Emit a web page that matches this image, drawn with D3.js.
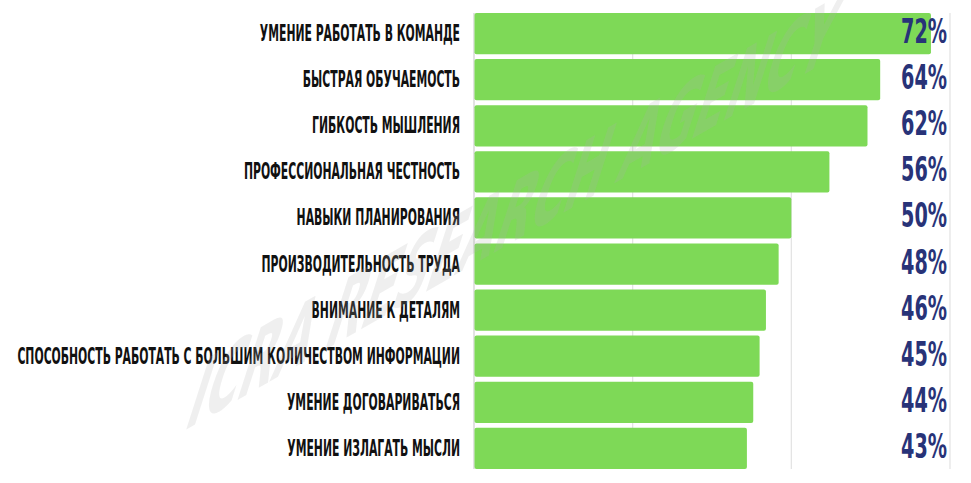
<!DOCTYPE html>
<html>
<head>
<meta charset="utf-8">
<script src="https://cdn.jsdelivr.net/npm/d3@7/dist/d3.min.js"></script>
<style>
  html, body { margin: 0; padding: 0; background: #ffffff; }
  svg { display: block; }
</style>
</head>
<body>
<svg id="chart" width="971" height="483"></svg>
<script>
const categories = [
  "УМЕНИЕ РАБОТАТЬ В КОМАНДЕ",
  "БЫСТРАЯ ОБУЧАЕМОСТЬ",
  "ГИБКОСТЬ МЫШЛЕНИЯ",
  "ПРОФЕССИОНАЛЬНАЯ ЧЕСТНОСТЬ",
  "НАВЫКИ ПЛАНИРОВАНИЯ",
  "ПРОИЗВОДИТЕЛЬНОСТЬ ТРУДА",
  "ВНИМАНИЕ К ДЕТАЛЯМ",
  "СПОСОБНОСТЬ РАБОТАТЬ С БОЛЬШИМ КОЛИЧЕСТВОМ ИНФОРМАЦИИ",
  "УМЕНИЕ ДОГОВАРИВАТЬСЯ",
  "УМЕНИЕ ИЗЛАГАТЬ МЫСЛИ"
];
const values = [72, 64, 62, 56, 50, 48, 46, 45, 44, 43];
const gridTicks = [0, 25, 50, 75];
const watermarkText = "ICRA RESEARCH AGENCY";

const svg = d3.select("#chart");
const condensed = "'Liberation Sans Narrow', 'DejaVu Sans Condensed', 'Arial Narrow', sans-serif";

const x = d3.scaleLinear().domain([0, 75]).range([474, 950]);
const y = d3.scaleBand().domain(categories).range([10.6, 471.4])
  .paddingInner(0.104).paddingOuter(0.052);

const plotTop = y(categories[0]);
const plotBottom = y(categories[categories.length - 1]) + y.bandwidth();

// gridlines
svg.append("g").selectAll("line").data(gridTicks).join("line")
  .attr("x1", d => x(d)).attr("x2", d => x(d))
  .attr("y1", plotTop).attr("y2", plotBottom)
  .attr("stroke", d => d === 0 ? "#cfcfcf" : "#e2e2e2")
  .attr("stroke-width", 1.2);

// bars
svg.append("g").selectAll("rect").data(values).join("rect")
  .attr("x", x(0) + 0.5)
  .attr("y", (d, i) => y(categories[i]))
  .attr("width", d => x(d) - x(0) - 0.5)
  .attr("height", y.bandwidth())
  .attr("rx", 2).attr("ry", 2)
  .attr("fill", "#7ed957");

// category labels
const labelG = svg.append("g");
const labels = labelG.selectAll("text").data(categories).join("text")
  .text(d => d)
  .attr("text-anchor", "end")
  .attr("font-family", condensed)
  .attr("font-weight", "bold")
  .attr("font-size", 22.5)
  .attr("fill", "#111111");
let maxW = 0;
labels.each(function () { maxW = Math.max(maxW, this.getComputedTextLength()); });
const sxLab = 443 / maxW;
labels.attr("transform", d => `translate(460,${y(d) + y.bandwidth() / 2 + 7.5}) scale(${sxLab},1)`);

// value labels
const valG = svg.append("g");
const vals = valG.selectAll("text").data(values).join("text")
  .text(d => d + "%")
  .attr("text-anchor", "end")
  .attr("font-family", condensed)
  .attr("font-weight", "bold")
  .attr("font-size", 33)
  .attr("fill", "#283378");
let vW = 0;
vals.each(function () { vW = Math.max(vW, this.getComputedTextLength()); });
const sxVal = 46 / vW;
vals.attr("transform", (d, i) => `translate(947,${y(categories[i]) + y.bandwidth() / 2 + 9.5}) scale(${sxVal},1)`);

// watermark (skewed, translucent)
svg.append("text")
  .text(watermarkText)
  .attr("font-family", condensed)
  .attr("font-weight", "bold")
  .attr("font-size", 100)
  .attr("fill", "#b0b0b0")
  .attr("fill-opacity", 0.2)
  .attr("textLength", 740)
  .attr("lengthAdjust", "spacingAndGlyphs")
  .attr("transform", "matrix(0.87,-0.5,-0.32,1.0,182,432)");
</script>
</body>
</html>
